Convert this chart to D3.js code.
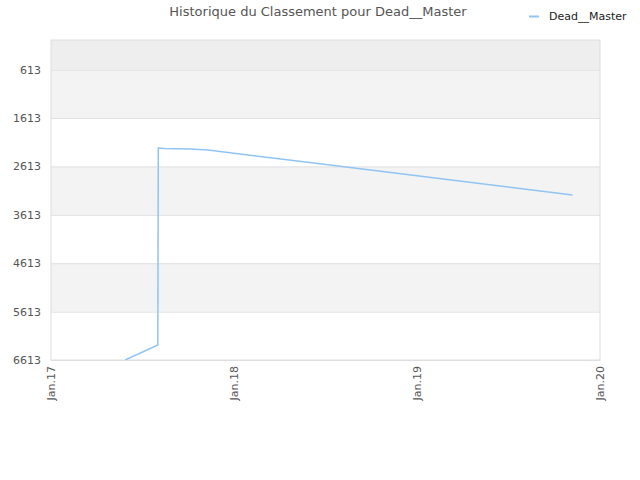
<!DOCTYPE html>
<html>
<head>
<meta charset="utf-8">
<script src="https://cdn.jsdelivr.net/npm/d3@7"></script>
<style>
body { margin: 0; background: #fff; }
text { font-family: "DejaVu Sans", Verdana, sans-serif; }
</style>
</head>
<body>
<div id="chart"></div>
<script>
var title = "Historique du Classement pour Dead__Master";
var seriesName = "Dead__Master";
var dates = ["2017-05-29", "2017-08-02", "2017-08-03", "2017-08-15", "2017-10-05", "2017-11-10", "2018-06-01", "2019-01-01", "2019-11-07"];
var ranks = [6613, 6303, 2232, 2242, 2253, 2273, 2532, 2806, 3203];
var yTicks = [613, 1613, 2613, 3613, 4613, 5613, 6613];
var xTicks = ["2017-01-01", "2018-01-01", "2019-01-01", "2020-01-01"];
var xTickLabels = ["Jan.17", "Jan.18", "Jan.19", "Jan.20"];
var bands = [[0, 613, "#eeeeee"], [613, 1613, "#f3f3f3"], [1613, 2613, "#ffffff"], [2613, 3613, "#f3f3f3"],
             [3613, 4613, "#ffffff"], [4613, 5613, "#f3f3f3"], [5613, 6613, "#ffffff"]];

var margin = {top: 40, right: 40, bottom: 120, left: 51},
    width = 640 - margin.left - margin.right,
    height = 480 - margin.top - margin.bottom;

var parse = d3.timeParse("%Y-%m-%d");
var data = dates.map(function(d, i) { return {date: parse(d), rank: ranks[i]}; });

var svg = d3.select("#chart").append("svg")
  .attr("width", 640).attr("height", 480);

svg.append("text")
  .attr("x", 318).attr("y", 16)
  .attr("text-anchor", "middle")
  .attr("font-size", 13)
  .attr("fill", "#555")
  .text(title);

// legend
svg.append("line")
  .attr("x1", 529).attr("x2", 539).attr("y1", 16.5).attr("y2", 16.5)
  .attr("stroke", "#90c4f5").attr("stroke-width", 2);
svg.append("text")
  .attr("x", 549).attr("y", 19.5)
  .attr("font-size", 11).attr("fill", "#222")
  .text(seriesName);

var g = svg.append("g")
  .attr("transform", "translate(" + margin.left + "," + margin.top + ")");

var x = d3.scaleTime()
  .domain([parse(xTicks[0]), parse(xTicks[xTicks.length - 1])])
  .range([0, width]);
var y = d3.scaleLinear()
  .domain([0, 6613])
  .range([0, height]);

g.selectAll(".band").data(bands).enter().append("rect")
  .attr("x", 0).attr("width", width)
  .attr("y", function(d) { return y(d[0]); })
  .attr("height", function(d) { return y(d[1]) - y(d[0]); })
  .attr("fill", function(d) { return d[2]; });

var yAxis = g.append("g")
  .call(d3.axisLeft(y).tickValues(yTicks).tickSize(-width).tickPadding(10).tickFormat(d3.format("d")));
yAxis.select(".domain").remove();
yAxis.selectAll("line").attr("stroke", "#e0e0e0");
yAxis.selectAll("text").attr("font-size", 11).attr("fill", "#555")
  .style("font-family", "DejaVu Sans, sans-serif");

var xAxis = g.append("g")
  .attr("transform", "translate(0," + height + ")")
  .call(d3.axisBottom(x).tickValues(xTicks.map(parse)).tickSize(0)
    .tickFormat(function(d, i) { return xTickLabels[i]; }));
xAxis.select(".domain").remove();
xAxis.selectAll("text")
  .attr("font-size", 11).attr("fill", "#555")
  .style("font-family", "DejaVu Sans, sans-serif")
  .attr("text-anchor", "end")
  .attr("transform", "rotate(-90)")
  .attr("x", -6).attr("y", 0).attr("dy", "0.35em");

g.append("rect")
  .attr("width", width).attr("height", height)
  .attr("fill", "none").attr("stroke", "#dddddd");

g.append("clipPath").attr("id", "clip")
  .append("rect").attr("width", width).attr("height", height);

var line = d3.line()
  .x(function(d) { return x(d.date); })
  .y(function(d) { return y(d.rank); });

g.append("path")
  .datum(data)
  .attr("clip-path", "url(#clip)")
  .attr("fill", "none")
  .attr("stroke", "#90c4f5")
  .attr("stroke-width", 1.5)
  .attr("d", line);
</script>
</body>
</html>
